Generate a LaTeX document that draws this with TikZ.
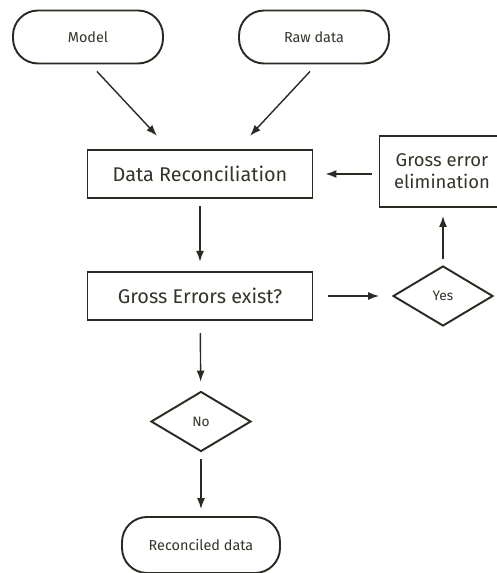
\documentclass[tikz,border=0pt]{standalone}
\usepackage{fontspec}
\setmainfont{Fira Sans}
\usepackage{tikz}
\usetikzlibrary{shapes.geometric,arrows.meta}
\definecolor{ink}{HTML}{2B2A22}
\definecolor{txt}{HTML}{34342A}

\begin{document}
\begin{tikzpicture}[x=0.02cm,y=-0.02cm]
      \tikzstyle{every node}=[draw=ink,line width=1.1pt,text=txt,inner sep=0pt]
      \tikzstyle{term}=[rectangle,rounded corners=0.5cm,minimum width=3cm,
			      minimum height=1.06cm,font=\fontsize{8.2}{10}\selectfont]
      \tikzstyle{proc}=[rectangle,minimum width=4.5cm,minimum height=0.97cm,
			      font=\fontsize{11.3}{13}\selectfont]
      \tikzstyle{dec}=[diamond,aspect=1.64,minimum width=2cm,minimum height=1.2cm,
			      font=\fontsize{7.8}{9}\selectfont]
      \tikzstyle{flow}=[draw=ink,line width=0.8pt,-{Latex[length=2.2mm,width=1.6mm]}]
      \useasboundingbox (0,0) rectangle (496,573);
      \node (model) [term] at (88,37) {Model};
      \node (raw) [term] at (314,37) {Raw data};
      \node (drec) [proc] at (200,174) {Data Reconciliation};
      \node (gee) [proc,minimum width=2.5cm,minimum height=1.42cm,align=center,
	  font=\fontsize{10.5}{12.5}\selectfont] at (442,171.5) {Gross error\\elimination};
      \node (gross) [proc] at (200,296) {Gross Errors exist?};
      \node (yes) [dec] at (443,296) {Yes};
      \node (no) [dec] at (201,421.5) {No};
      \node (rec) [term,minimum width=3.16cm,minimum height=1.12cm] at (201,545)
	  {Reconciled data};
      \draw[flow] ([xshift=0.18cm,yshift=-0.14cm]model.south)
	  -- ([xshift=-0.86cm,yshift=0.26cm]drec.north);
      \draw[flow] ([xshift=-0.08cm,yshift=-0.14cm]raw.south)
	  -- ([xshift=1.0cm,yshift=0.26cm]drec.north);
      \draw[flow,shorten <=0.14cm,shorten >=0.18cm] (drec) -- (gross);
      \draw[flow,shorten <=0.3cm,shorten >=0.26cm] (gross) -- (yes);
      \draw[flow,shorten <=0.12cm,shorten >=0.16cm] (yes) -- (yes |- gee.south);
      \draw[flow,shorten <=0.14cm,shorten >=0.24cm] (gee.west |- drec.east) -- (drec);
      \draw[flow,shorten <=0.24cm,shorten >=0.18cm] (gross) -- (no);
      \draw[flow,shorten <=0.14cm,shorten >=0.14cm] (no) -- (rec);
  \end{tikzpicture}
\end{document}
